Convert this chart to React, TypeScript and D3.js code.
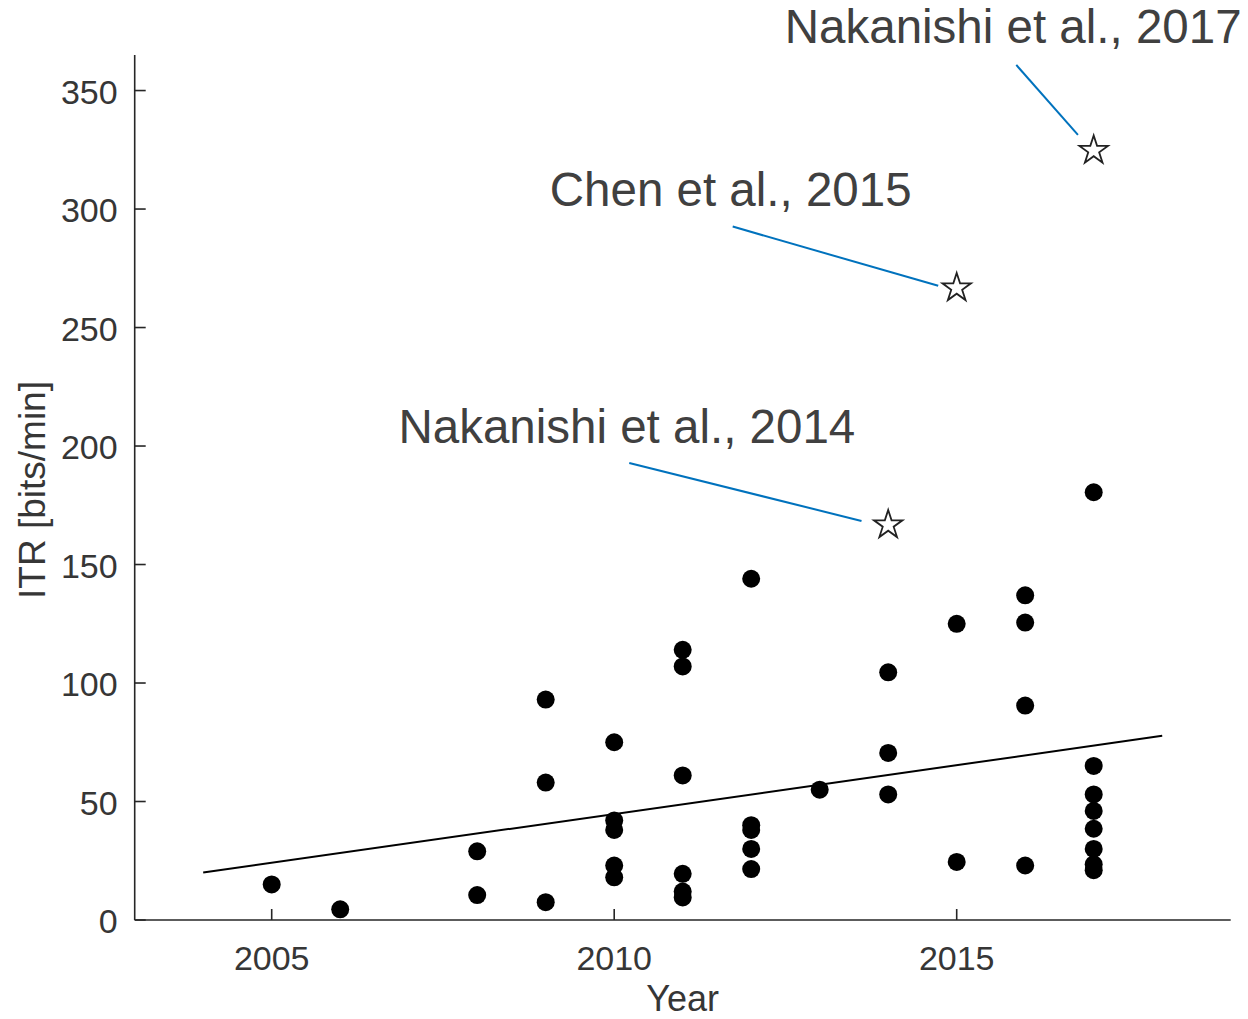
import React from "react";
import * as d3 from "d3";

// ---- data ----
const dotYears = [
  2005, 2006, 2008, 2008, 2009, 2009, 2009,
  2010, 2010, 2010, 2010, 2010,
  2011, 2011, 2011, 2011, 2011, 2011,
  2012, 2012, 2012, 2012, 2012,
  2013, 2014, 2014, 2014, 2015, 2015,
  2016, 2016, 2016, 2016,
  2017, 2017, 2017, 2017, 2017, 2017, 2017, 2017,
];
const dotValues = [
  15, 4.5, 29, 10.5, 93, 58, 7.5,
  75, 42, 38, 23, 18,
  114, 107, 61, 19.5, 12, 9.5,
  144, 40, 38, 30, 21.5,
  55, 104.5, 70.5, 53, 125, 24.5,
  137, 125.5, 90.5, 23,
  180.5, 65, 53, 46, 38.5, 30, 23.5, 21,
];
const starYears = [2014, 2015, 2017];
const starValues = [166.7, 266.7, 324.7];
const starLabels = ["Nakanishi et al., 2014", "Chen et al., 2015", "Nakanishi et al., 2017"];
// label anchor (year, value) and leader line from/to in data units
const labelYears = [2006.85, 2009.06, 2012.49];
const labelValues = [201.2, 301.1, 369.9];
const leaderFromYears = [2010.22, 2011.73, 2015.87];
const leaderFromValues = [192.8, 292.6, 360.8];
const leaderToYears = [2013.61, 2014.73, 2016.77];
const leaderToValues = [168.4, 267.6, 331.3];

const fitYears = [2004, 2018];
const fitValues = [20, 77.7];

const xTicks = [2005, 2010, 2015];
const yTicks = [0, 50, 100, 150, 200, 250, 300, 350];
const xDomain = [2003, 2019];
const yDomain = [0, 365];

const W = 1248;
const H = 1019;
const FONT = "'Liberation Sans', Arial, Helvetica, sans-serif";
const AXIS = "#262626";
const TICKTEXT = "#363636";

function starPath(cx: number, cy: number, R: number) {
  const r = R * 0.382;
  const pts: [number, number][] = [];
  for (let i = 0; i < 10; i++) {
    const a = -Math.PI / 2 + (i * Math.PI) / 5;
    const rr = i % 2 === 0 ? R : r;
    pts.push([cx + rr * Math.cos(a), cy + rr * Math.sin(a)]);
  }
  return "M" + pts.map((p) => p.join(",")).join("L") + "Z";
}

export default function App() {
  const x = d3.scaleLinear().domain(xDomain).range([134.7, 1230.7]);
  const y = d3.scaleLinear().domain(yDomain).range([920, 55]);
  const line = d3
    .line<number>()
    .x((_, i) => x(fitYears[i]))
    .y((d) => y(d));

  const x0 = x(xDomain[0]);
  const x1 = x(xDomain[1]);
  const y0 = y(yDomain[0]);
  const y1 = y(yDomain[1]);

  return (
    <svg
      width={W}
      height={H}
      style={{ position: "absolute", left: 0, top: 0, background: "#fff" }}
      fontFamily={FONT}
    >
      <rect width={W} height={H} fill="#fff" />
      {/* axes */}
      <line x1={x0} x2={x0} y1={y0} y2={y1} stroke={AXIS} strokeWidth={1.6} />
      <line x1={x0} x2={x1} y1={y0} y2={y0} stroke={AXIS} strokeWidth={1.6} />
      {yTicks.map((t) => (
        <g key={"y" + t}>
          <line x1={x0} x2={x0 + 11} y1={y(t)} y2={y(t)} stroke={AXIS} strokeWidth={1.6} />
          <text
            x={x0 - 17}
            y={y(t) + 13}
            textAnchor="end"
            fontSize={34}
            fill={TICKTEXT}
          >
            {t}
          </text>
        </g>
      ))}
      {xTicks.map((t) => (
        <g key={"x" + t}>
          <line x1={x(t)} x2={x(t)} y1={y0} y2={y0 - 11} stroke={AXIS} strokeWidth={1.6} />
          <text x={x(t)} y={y0 + 50} textAnchor="middle" fontSize={34} fill={TICKTEXT}>
            {t}
          </text>
        </g>
      ))}
      <text x={(x0 + x1) / 2} y={1011} textAnchor="middle" fontSize={36} fill={TICKTEXT}>
        Year
      </text>
      <text
        transform={`translate(45, 490) rotate(-90)`}
        textAnchor="middle"
        fontSize={37}
        fill={TICKTEXT}
      >
        ITR [bits/min]
      </text>

      {/* fit line */}
      <path d={line(fitValues) || ""} fill="none" stroke="#000" strokeWidth={2} />

      {/* dots */}
      {dotValues.map((v, i) => (
        <circle key={"d" + i} cx={x(dotYears[i])} cy={y(v)} r={9} fill="#000" />
      ))}

      {/* stars */}
      {starValues.map((v, i) => (
        <path
          key={"s" + i}
          d={starPath(x(starYears[i]), y(v), 15)}
          fill="#fff"
          stroke="#222"
          strokeWidth={1.8}
          strokeLinejoin="miter"
        />
      ))}

      {/* annotations */}
      {starLabels.map((lab, i) => (
        <g key={"a" + i}>
          <line
            x1={x(leaderFromYears[i])}
            y1={y(leaderFromValues[i])}
            x2={x(leaderToYears[i])}
            y2={y(leaderToValues[i])}
            stroke="#0072BD"
            strokeWidth={2}
          />
          <text x={x(labelYears[i])} y={y(labelValues[i])} fontSize={47.5} fill="#404040">
            {lab}
          </text>
        </g>
      ))}
    </svg>
  );
}
